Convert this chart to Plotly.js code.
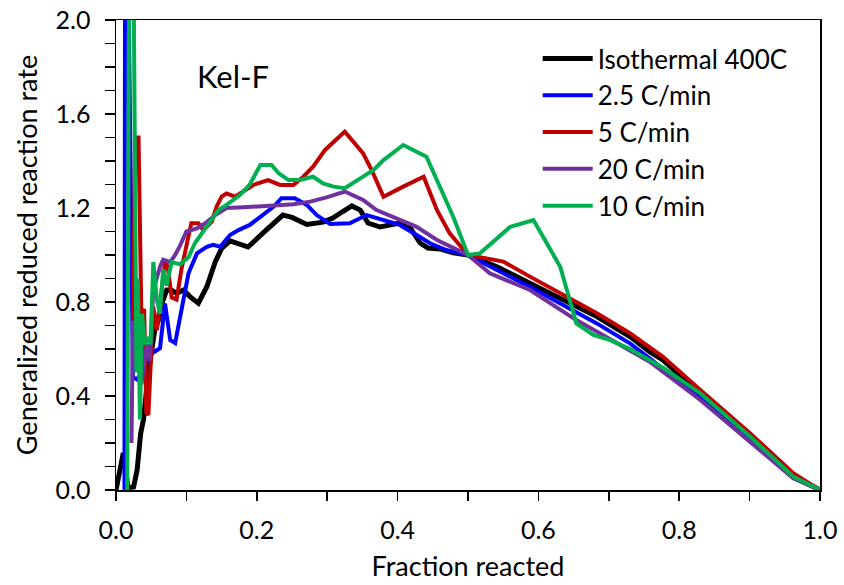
<!DOCTYPE html>
<html>
<head>
<meta charset="utf-8">
<script src="https://cdn.plot.ly/plotly-3.0.1.min.js"></script>
<style>html,body{margin:0;padding:0;background:#fff;}#chart{width:844px;height:585px;}</style>
</head>
<body>
<div id="chart"></div>
<script>
// Series names
const seriesNames = ["Isothermal 400C", "2.5 C/min", "5 C/min", "20 C/min", "10 C/min"];
const seriesColors = ["#000000", "#0000ff", "#c00000", "#7030a0", "#00b050"];

// Isothermal 400C
const isoX = [0,0.0104,0.017,0.025,0.03,0.035,0.039,0.046,0.055,0.06,0.066,0.072,0.079,0.086,0.096,0.105,0.117,0.129,0.141,0.15,0.162,0.1875,0.209,0.237,0.25,0.271,0.294,0.308,0.321,0.335,0.347,0.358,0.375,0.392,0.403,0.418,0.432,0.443,0.46,0.479,0.5,0.541,0.588,0.635,0.683,0.73,0.758,0.777,0.83,0.901,0.962,1.0];
const isoY = [0,0.157,0.01,0.013,0.085,0.24,0.3,0.5,0.68,0.72,0.8,0.851,0.85,0.837,0.851,0.823,0.795,0.865,0.971,1.028,1.06,1.034,1.094,1.17,1.16,1.13,1.14,1.157,1.183,1.209,1.191,1.136,1.119,1.128,1.136,1.115,1.051,1.03,1.026,1.009,1.0,0.95,0.879,0.809,0.738,0.653,0.589,0.553,0.411,0.22,0.057,0.0];

// 2.5 C/min
const r25X = [0.012,0.013,0.016,0.024,0.03,0.04,0.05,0.0625,0.0696,0.077,0.084,0.091,0.103,0.115,0.129,0.138,0.148,0.162,0.174,0.19,0.209,0.224,0.235,0.254,0.271,0.285,0.304,0.332,0.356,0.38,0.403,0.427,0.446,0.47,0.5,0.541,0.588,0.635,0.683,0.73,0.758,0.83,0.901,0.962,1.0];
const r25Y = [0,2.6,2.6,0.48,0.47,0.52,0.58,0.603,0.794,0.638,0.625,0.737,0.922,1.007,1.035,1.043,1.035,1.085,1.106,1.128,1.17,1.206,1.241,1.241,1.213,1.17,1.132,1.135,1.17,1.149,1.128,1.085,1.05,1.02,1.0,0.936,0.865,0.787,0.709,0.624,0.56,0.39,0.213,0.057,0.0];

// 5 C/min
const r5X = [0.024,0.027,0.032,0.036,0.040,0.043,0.046,0.050,0.053,0.058,0.065,0.070,0.074,0.079,0.086,0.093,0.103,0.107,0.117,0.124,0.136,0.143,0.150,0.157,0.169,0.181,0.195,0.216,0.233,0.252,0.266,0.28,0.297,0.325,0.351,0.363,0.38,0.408,0.437,0.456,0.474,0.5,0.55,0.588,0.635,0.683,0.73,0.758,0.777,0.83,0.901,0.962,1.0];
const r5Y = [0.55,1.5,1.5,0.75,0.77,0.33,0.32,0.62,0.78,0.68,0.85,0.98,0.94,0.82,0.81,0.94,1.08,1.135,1.135,1.106,1.142,1.206,1.248,1.262,1.248,1.27,1.298,1.319,1.298,1.298,1.333,1.376,1.447,1.525,1.433,1.362,1.248,1.291,1.333,1.191,1.092,1.0,0.972,0.908,0.83,0.752,0.667,0.61,0.567,0.426,0.241,0.071,0.0];

// 20 C/min
const r20X = [0.022,0.024,0.028,0.032,0.036,0.040,0.044,0.048,0.053,0.0625,0.067,0.077,0.084,0.091,0.1,0.115,0.129,0.141,0.157,0.181,0.205,0.228,0.252,0.276,0.299,0.325,0.351,0.37,0.399,0.427,0.456,0.5,0.531,0.588,0.654,0.73,0.758,0.83,0.901,0.962,1.0];
const r20Y = [0.2,0.72,0.55,0.6,0.45,0.55,0.62,0.55,0.85,0.95,0.98,0.97,1.0,1.04,1.1,1.113,1.14,1.17,1.2,1.203,1.206,1.209,1.216,1.227,1.245,1.27,1.234,1.191,1.156,1.12,1.064,1.0,0.922,0.851,0.723,0.596,0.546,0.383,0.206,0.05,0.0];

// 10 C/min
const r10X = [0.016,0.019,0.024,0.027,0.029,0.031,0.034,0.037,0.041,0.046,0.049,0.053,0.058,0.0625,0.067,0.072,0.079,0.091,0.103,0.112,0.126,0.136,0.145,0.16,0.176,0.19,0.205,0.221,0.231,0.245,0.261,0.28,0.294,0.309,0.325,0.347,0.366,0.38,0.408,0.441,0.46,0.479,0.5,0.517,0.56,0.593,0.631,0.654,0.678,0.702,0.73,0.777,0.83,0.901,0.962,1.0];
const r10Y = [0,2.6,2.6,0.85,0.5,0.9,0.3,0.75,0.62,0.65,0.62,0.97,0.81,0.75,0.94,0.87,0.97,0.96,0.99,1.05,1.11,1.15,1.19,1.22,1.255,1.3,1.383,1.383,1.348,1.319,1.319,1.333,1.305,1.291,1.284,1.326,1.362,1.404,1.468,1.418,1.291,1.163,1.0,1.007,1.12,1.149,0.95,0.709,0.66,0.638,0.6,0.52,0.411,0.227,0.057,0.0];

const xs = [isoX, r25X, r5X, r20X, r10X];
const ys = [isoY, r25Y, r5Y, r20Y, r10Y];

const FONT = "Lato, 'Open Sans', sans-serif";

const traces = seriesNames.map((name, i) => ({
  type: "scatter",
  mode: "lines",
  name: name,
  x: xs[i],
  y: ys[i],
  line: {color: seriesColors[i], width: i === 0 ? 5 : 4}
}));

const layout = {
  width: 844,
  height: 585,
  margin: {l: 116, r: 24, t: 20, b: 95},
  paper_bgcolor: "#ffffff",
  plot_bgcolor: "#ffffff",
  showlegend: true,
  legend: {
    x: 0.599, y: 0.968, xanchor: "left", yanchor: "top",
    font: {family: FONT, size: 26, color: "#000"},
    bgcolor: "rgba(255,255,255,0)",
    borderwidth: 0,
    itemwidth: 50,
    traceorder: "normal"
  },
  xaxis: {
    range: [0, 1],
    dtick: 0.2,
    tick0: 0,
    tickformat: ".1f",
    ticks: "outside",
    ticklen: 9,
    tickwidth: 1.5,
    tickcolor: "#000",
    ticklabelstandoff: 8,
    showline: true,
    linecolor: "#000",
    linewidth: 1.5,
    mirror: true,
    showgrid: false,
    zeroline: false,
    minor: {dtick: 0.1, ticks: "outside", ticklen: 9, tickwidth: 1.5, tickcolor: "#000", showgrid: false},
    tickfont: {family: FONT, size: 25, color: "#000"},
    title: {text: "Fraction reacted", font: {family: FONT, size: 27, color: "#000"}, standoff: 14}
  },
  yaxis: {
    range: [0, 2],
    dtick: 0.4,
    tick0: 0,
    tickformat: ".1f",
    ticks: "outside",
    ticklen: 10,
    tickwidth: 1.5,
    tickcolor: "#000",
    ticklabelstandoff: 9,
    showline: true,
    linecolor: "#000",
    linewidth: 1.5,
    mirror: true,
    showgrid: false,
    zeroline: false,
    minor: {dtick: 0.1, ticks: "outside", ticklen: 10, tickwidth: 1.5, tickcolor: "#000", showgrid: false},
    tickfont: {family: FONT, size: 25, color: "#000"},
    title: {text: "Generalized reduced reaction rate", font: {family: FONT, size: 27, color: "#000"}, standoff: 10}
  },
  annotations: [{
    x: 0.112, y: 1.76, xref: "x", yref: "y",
    xanchor: "left", yanchor: "middle",
    text: "Kel-F", showarrow: false,
    font: {family: FONT, size: 31, color: "#000"}
  }]
};

Plotly.newPlot("chart", traces, layout, {displayModeBar: false, staticPlot: true});
</script>
</body>
</html>
